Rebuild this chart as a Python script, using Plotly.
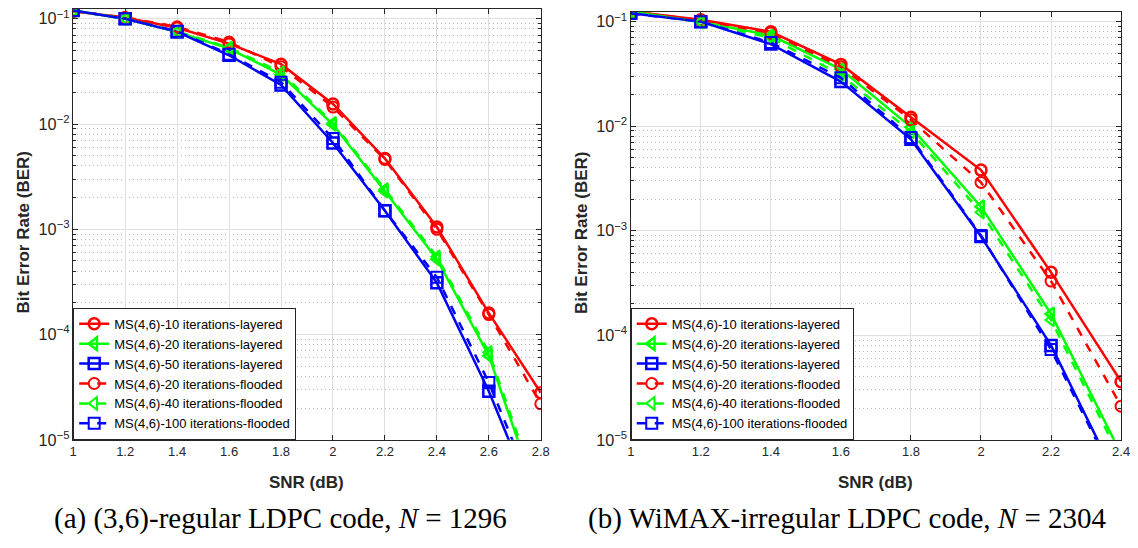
import plotly.graph_objects as go

# ---------------- data ----------------
snr_a = [1.0, 1.2, 1.4, 1.6, 1.8, 2.0, 2.2, 2.4, 2.6, 2.8]
a_red_layered   = [0.118, 0.102, 0.082, 0.058, 0.037, 0.0155, 0.0047, 1.05e-3, 1.6e-4, 2.8e-5]
a_green_layered = [0.120, 0.100, 0.075, 0.052, 0.0295, 0.0099, 0.0023, 5.2e-4, 6.3e-5, 2.3e-6]
a_blue_layered  = [0.120, 0.100, 0.075, 0.045, 0.0235, 0.0066, 0.0015, 3.1e-4, 2.9e-5, 1.8e-6]
a_red_flooded   = [0.118, 0.103, 0.084, 0.060, 0.035, 0.0145, 0.0046, 1.0e-3, 1.55e-4, 2.2e-5]
a_green_flooded = [0.120, 0.100, 0.076, 0.053, 0.031, 0.0102, 0.0024, 5.5e-4, 6.8e-5, 2.6e-6]
a_blue_flooded  = [0.120, 0.100, 0.076, 0.046, 0.025, 0.0073, 0.0015, 3.5e-4, 3.5e-5, 2.2e-6]

snr_b = [1.0, 1.2, 1.4, 1.6, 1.8, 2.0, 2.2, 2.4]
b_red_layered   = [0.125, 0.104, 0.080, 0.039, 0.0122, 0.0038, 4.0e-4, 3.6e-5]
b_green_layered = [0.125, 0.099, 0.074, 0.035, 0.0098, 0.0017, 1.6e-4, 7.3e-6]
b_blue_layered  = [0.120, 0.100, 0.061, 0.0267, 0.0075, 8.8e-4, 8.0e-5, 3.5e-6]
b_red_flooded   = [0.125, 0.103, 0.078, 0.037, 0.0115, 0.0029, 3.3e-4, 2.1e-5]
b_green_flooded = [0.125, 0.099, 0.070, 0.031, 0.0088, 0.0015, 1.4e-4, 6.5e-6]
b_blue_flooded  = [0.120, 0.100, 0.063, 0.029, 0.0078, 9.0e-4, 7.3e-5, 3.3e-6]

names = ["MS(4,6)-10 iterations-layered", "MS(4,6)-20 iterations-layered",
         "MS(4,6)-50 iterations-layered", "MS(4,6)-20 iterations-flooded",
         "MS(4,6)-40 iterations-flooded", "MS(4,6)-100 iterations-flooded"]
x_ticks_a = [1, 1.2, 1.4, 1.6, 1.8, 2, 2.2, 2.4, 2.6, 2.8]
x_ticks_b = [1, 1.2, 1.4, 1.6, 1.8, 2, 2.2, 2.4]
captions = ["(a) (3,6)-regular LDPC code, <i>N</i> = 1296",
            "(b) WiMAX-irregular LDPC code, <i>N</i> = 2304"]

colors = ["#FF0000", "#00FF00", "#0000FF", "#FF0000", "#00FF00", "#0000FF"]
symbols = ["circle-open", "triangle-left-open", "square-open",
           "circle-open", "triangle-left-open", "square-open"]
dashes = ["solid", "solid", "solid", "dash", "dash", "dash"]

W, H = 1138, 548
fig = go.Figure()

series_a = [a_red_layered, a_green_layered, a_blue_layered, a_red_flooded, a_green_flooded, a_blue_flooded]
series_b = [b_red_layered, b_green_layered, b_blue_layered, b_red_flooded, b_green_flooded, b_blue_flooded]


def add(xs, ys, i, xa, ya, lg):
    fig.add_trace(go.Scatter(
        x=xs, y=ys, name=names[i], mode="lines+markers",
        line=dict(color=colors[i], width=2.5, dash=dashes[i]),
        marker=dict(symbol=symbols[i], size=11, color=colors[i],
                    line=dict(color=colors[i], width=2.5 if i < 3 else 2)),
        xaxis=xa, yaxis=ya, legend=lg, cliponaxis=True))


for i, ys in enumerate(series_a):
    add(snr_a, ys, i, "x", "y", "legend")
for i, ys in enumerate(series_b):
    add(snr_b, ys, i, "x2", "y2", "legend2")

axcol = "#262626"
sans = "Liberation Sans, Arial, Helvetica, sans-serif"
tickfont = dict(family=sans, size=13, color=axcol)
common_x = dict(showline=True, linecolor=axcol, linewidth=1, mirror="ticks",
                ticks="inside", ticklen=5, tickcolor=axcol, tickfont=tickfont,
                showgrid=True, gridcolor="#e0e0e0", gridwidth=1, zeroline=False)
common_y = dict(type="log", showline=True, linecolor=axcol, linewidth=1, mirror="ticks",
                ticks="inside", ticklen=5, tickcolor=axcol, tickfont=tickfont,
                showgrid=True, gridcolor="#e0e0e0", gridwidth=1, zeroline=False,
                tickmode="linear", tick0=0, dtick=1, exponentformat="power",
                range=[-5, -0.906],
                minor=dict(dtick="D1", ticks="inside", ticklen=3, tickcolor=axcol,
                           showgrid=True, gridcolor="#b8b8b8", griddash="1px,3px", gridwidth=1))

yb, yt_a, yt_b = 1 - 447 / H, 1 - 8 / H, 1 - 11 / H
xa0, xa1 = 70 / W, 543 / W
xb0, xb1 = 634 / W, 1130 / W

legfont = dict(family=sans, size=13, color="#000")
fig.update_layout(
    width=W, height=H, margin=dict(l=0, r=0, t=0, b=0),
    paper_bgcolor="white", plot_bgcolor="white", showlegend=True,
    xaxis=dict(domain=[xa0, xa1], range=[1, 2.8], tickvals=x_ticks_a, anchor="y", **common_x),
    yaxis=dict(domain=[yb, yt_a], anchor="x", **common_y),
    xaxis2=dict(domain=[xb0, xb1], range=[1, 2.4], tickvals=x_ticks_b, anchor="y2", **common_x),
    yaxis2=dict(domain=[yb, yt_b], anchor="x2", **common_y),
    legend=dict(x=xa0, y=yb, xanchor="left", yanchor="bottom", bgcolor="white",
                bordercolor=axcol, borderwidth=1, tracegroupgap=0, font=legfont),
    legend2=dict(x=xb0, y=yb, xanchor="left", yanchor="bottom", bgcolor="white",
                 bordercolor=axcol, borderwidth=1, tracegroupgap=0, font=legfont),
)

title_font = dict(family=sans, size=17, color=axcol)
ann = []
for (x0, x1) in [(xa0, xa1), (xb0, xb1)]:
    ann.append(dict(text="<b>SNR (dB)</b>", x=(x0 + x1) / 2, y=1 - 490 / H, xref="paper", yref="paper",
                    showarrow=False, font=title_font, xanchor="center", yanchor="middle"))
for xc in (20, 584):
    ann.append(dict(text="<b>Bit Error Rate (BER)</b>", x=xc / W, y=1 - 236 / H, xref="paper", yref="paper",
                    showarrow=False, font=title_font, textangle=-90, xanchor="center", yanchor="middle"))
cap_font = dict(family="Liberation Serif, Times New Roman, serif", size=29, color="#000")
ann.append(dict(text=captions[0], x=280 / W, y=1 - 527 / H, xref="paper", yref="paper",
                showarrow=False, font=cap_font, xanchor="center", yanchor="middle"))
ann.append(dict(text=captions[1], x=853 / W, y=1 - 527 / H, xref="paper", yref="paper",
                showarrow=False, font=cap_font, xanchor="center", yanchor="middle"))
fig.update_layout(annotations=ann)

fig.write_html("out.html")
